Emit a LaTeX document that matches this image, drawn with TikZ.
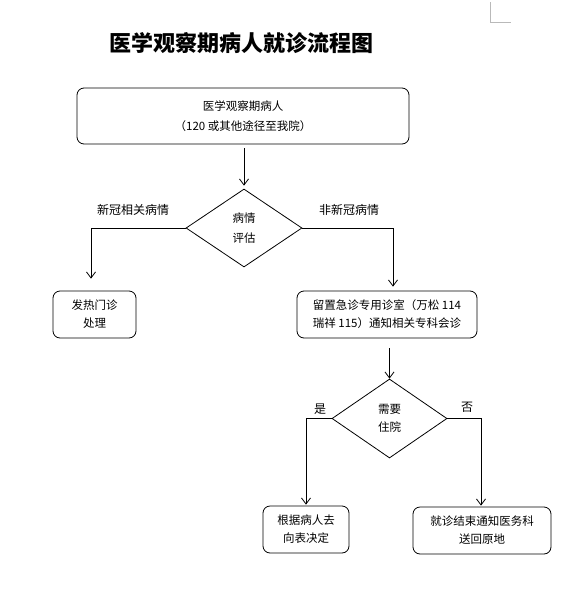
\documentclass[tikz,border=0pt]{standalone}
\usepackage{fontspec}
\setmainfont{Noto Sans CJK SC}
\usetikzlibrary{arrows.meta,shapes.geometric}

\begin{document}
\begin{tikzpicture}[x=1pt, y=-1pt,
  box/.style={draw, rounded corners=7pt, line width=0.8pt, align=center,
    inner sep=0pt, font=\fontsize{11.5}{18}\selectfont},
  decide/.style={draw, diamond, line width=0.8pt, align=center, inner sep=0pt,
    font=\fontsize{11.5}{18}\selectfont},
  edge/.style={-{Straight Barb[length=6pt, width=9pt]}, line width=0.8pt},
  note/.style={font=\fontsize{12}{14}\selectfont}
]
\useasboundingbox (0,0) rectangle (571,592);
% page corner mark
\draw[gray!55, line width=0.8pt] (490,2) -- (490,22) -- (511,22);
% title
\node[font=\fontsize{22}{22}\selectfont\bfseries] (title) at (241,43) {医学观察期病人就诊流程图};
% nodes
\node[box, minimum width=332pt, minimum height=56pt, font=\fontsize{11.5}{20}\selectfont] (patient) at (243,116)
  {医学观察期病人\\（120 或其他途径至我院）};
\node[decide, minimum width=116pt, minimum height=78pt, font=\fontsize{11.5}{20}\selectfont] (assess) at (244,228) {病情\\评估};
\node[box, minimum width=83pt, minimum height=47pt] (fever) at (94.5,314.5) {发热门诊\\处理};
\node[box, minimum width=180pt, minimum height=47pt] (stay) at (387,314.5)
  {留置急诊专用诊室（万松 114\\瑞祥 115）通知相关专科会诊};
\node[decide, minimum width=115pt, minimum height=79pt] (admit) at (389.5,418.5) {需要\\住院};
\node[box, minimum width=86pt, minimum height=47pt] (whereto) at (306,529.5) {根据病人去\\向表决定};
\node[box, minimum width=138pt, minimum height=47pt] (back) at (482,530.5) {就诊结束通知医务科\\送回原地};
% connectors
\draw[edge, shorten <=4pt, shorten >=3pt] (patient.south -| assess.north) -- (assess.north);
\draw[edge, shorten >=12pt] (assess.west) -| ([xshift=-3.5pt]fever.north);
\draw[edge, shorten >=4pt] (assess.east) -| ([xshift=6pt]stay.north);
\draw[edge, shorten <=10pt] (stay.south -| admit.north) -- (admit.north);
\draw[edge, shorten >=1pt] (admit.west) -| (whereto.north);
\draw[edge, shorten >=1pt] (admit.east) -| ([xshift=-1pt]back.north);
% branch labels
\node[note] (covid) at (133,210) {新冠相关病情};
\node[note] (noncovid) at (349,210) {非新冠病情};
\node[note] (yes) at (320,409) {是};
\node[note] (no) at (467,407) {否};
\end{tikzpicture}
\end{document}
